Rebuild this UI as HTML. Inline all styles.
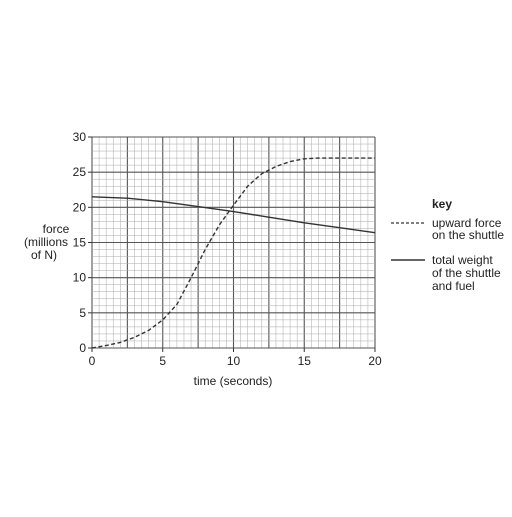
<!DOCTYPE html>
<html><head><meta charset="utf-8"><style>
body{margin:0;background:#fff;font-family:"Liberation Sans",sans-serif;}
svg text{font-family:"Liberation Sans",sans-serif;fill:#222;}
</style></head><body>
<svg width="512" height="512">
<g id="grid"></g>
<g id="marks"></g>
<text x="56" y="233" font-size="12" text-anchor="middle">force</text>
<text x="46" y="246" font-size="12" text-anchor="middle">(millions</text>
<text x="44" y="259" font-size="12" text-anchor="middle">of N)</text>
<text x="233" y="385" font-size="12" text-anchor="middle">time (seconds)</text>
<text x="432" y="208" font-size="12" font-weight="bold">key</text>
<line x1="391" y1="223" x2="425" y2="223" stroke="#333" stroke-width="1.2" stroke-dasharray="3,2"/>
<text x="432" y="227" font-size="12">upward force</text>
<text x="432" y="239" font-size="12">on the shuttle</text>
<line x1="391" y1="260" x2="425" y2="260" stroke="#333" stroke-width="1.4"/>
<text x="432" y="264" font-size="12">total weight</text>
<text x="432" y="277" font-size="12">of the shuttle</text>
<text x="432" y="290" font-size="12">and fuel</text>
</svg>
<script>
const xTicks=[0,5,10,15,20];
const yTicks=[0,5,10,15,20,25,30];
const upTimes=[0,1,2,3,4,5,6,7,8,9,10,11,12,13,14,15,16,17,18,19,20];
const upForce=[0,0.35,0.8,1.5,2.5,4,6.2,10,14,17.5,20.3,23,24.8,25.8,26.5,26.9,27,27,27,27,27];
const wTimes=[0,2.5,5,7.5,10,12.5,15,17.5,20];
const wForce=[21.5,21.3,20.8,20.1,19.4,18.6,17.8,17.1,16.4];
const L=92,R=375,T=137,B=348;
const X=v=>L+(v/20)*(R-L), Y=v=>B-(v/30)*(B-T);
const NS="http://www.w3.org/2000/svg";
const g=document.getElementById('grid'), m=document.getElementById('marks'), svg=g.ownerSVGElement;
function ln(p,x1,y1,x2,y2,c,w){const e=document.createElementNS(NS,'line');e.setAttribute('x1',x1);e.setAttribute('y1',y1);e.setAttribute('x2',x2);e.setAttribute('y2',y2);e.setAttribute('stroke',c);e.setAttribute('stroke-width',w);p.appendChild(e);return e;}
for(let i=0;i<=40;i++){const v=i*0.5;const major=i%5==0;const e=ln(g,X(v),T,X(v),B,major?'#555':'#aaa',major?1.1:0.5);

}
for(let i=0;i<=30;i++){const major=i%5==0;const e=ln(g,L,Y(i),R,Y(i),major?'#555':'#aaa',major?1.1:0.5);

}
xTicks.forEach(v=>{const t=document.createElementNS(NS,'text');t.setAttribute('x',X(v));t.setAttribute('y',B+17);t.setAttribute('font-size','12');t.setAttribute('text-anchor','middle');t.textContent=v;


svg.appendChild(t);ln(svg,X(v),B,X(v),B+4,'#333',1);});
yTicks.forEach(v=>{const t=document.createElementNS(NS,'text');t.setAttribute('x',L-6);t.setAttribute('y',Y(v)+4);t.setAttribute('font-size','12');t.setAttribute('text-anchor','end');t.textContent=v;


svg.appendChild(t);ln(svg,L-4,Y(v),L,Y(v),'#333',1);});
function path(xs,ys,dash,name){const p=document.createElementNS(NS,'path');
let d='';xs.forEach((x,i)=>{d+=(i?'L':'M')+X(x).toFixed(1)+','+Y(ys[i]).toFixed(1);});
p.setAttribute('d',d);p.setAttribute('fill','none');p.setAttribute('stroke','#333');p.setAttribute('stroke-width','1.4');p.setAttribute('stroke-linejoin','round');
if(dash)p.setAttribute('stroke-dasharray','4,2.5');


m.appendChild(p);}
path(upTimes,upForce,true,'upward-force-line');
path(wTimes,wForce,false,'total-weight-line');
</script>
</body></html>
